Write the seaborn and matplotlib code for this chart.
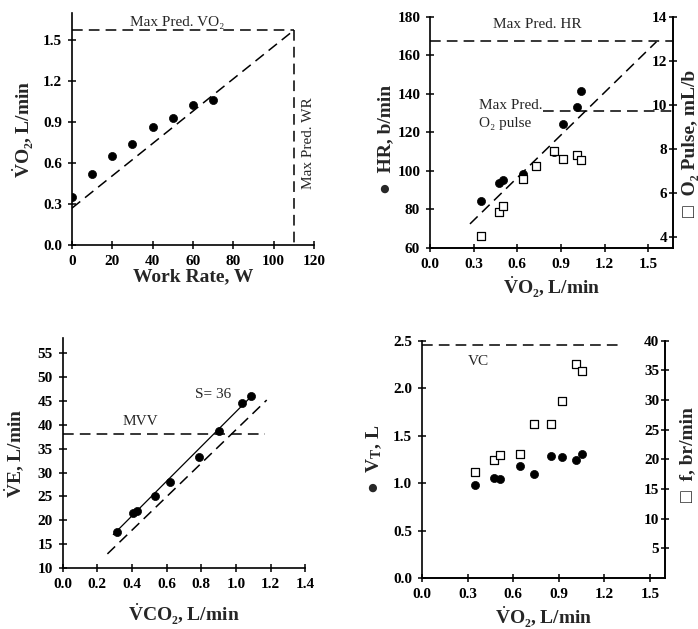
import matplotlib
matplotlib.use("Agg")
import matplotlib.pyplot as plt
import seaborn as sns

sns.set_theme(style="ticks")
plt.rcParams['font.family'] = ['Liberation Serif', 'DejaVu Serif', 'DejaVu Sans']
plt.rcParams['mathtext.fontset'] = 'custom'
plt.rcParams['mathtext.rm'] = 'Liberation Serif'
plt.rcParams['mathtext.bf'] = 'Liberation Serif:bold'
plt.rcParams['mathtext.it'] = 'Liberation Serif:italic'

# ---------------- data ----------------
# Panel 1: VO2 vs work rate
work_rate = [0, 10, 20, 30, 40, 50, 60, 70]
vo2_wr = [0.354, 0.518, 0.65, 0.74, 0.862, 0.928, 1.026, 1.062]
vo2_pred_x = [0, 110]
vo2_pred_y = [0.27, 1.575]
max_pred_vo2 = 1.575
max_pred_wr = 110

# Panel 2: HR and O2 pulse vs VO2
vo2 = [0.348, 0.474, 0.504, 0.637, 0.73, 0.852, 0.914, 1.008, 1.04]
hr = [84.5, 93.5, 95.4, 98.5, 102.5, 109.6, 124.4, 133.4, 141.5]
o2_pulse = [4.03, 5.12, 5.42, 6.62, 7.24, 7.92, 7.53, 7.72, 7.5]
hr_pred_x = [0.275, 1.557]
hr_pred_y = [72.5, 167.0]
max_pred_hr = 167.6
max_pred_o2p = 9.7
o2p_line_start = 0.778

# Panel 3: VE vs VCO2
vco2 = [0.311, 0.408, 0.431, 0.533, 0.619, 0.788, 0.904, 1.037, 1.085]
ve = [17.5, 21.5, 22.0, 25.0, 28.1, 33.2, 38.8, 44.6, 46.1]
ve_fit_x = [0.292, 1.10]
ve_fit_y = [17.0, 46.4]
ve_pred_x = [0.258, 1.177]
ve_pred_y = [12.95, 45.2]
mvv = 38.1
mvv_end = 1.167

# Panel 4: VT and f vs VO2
vo2_b = [0.347, 0.472, 0.514, 0.644, 0.736, 0.852, 0.922, 1.017, 1.052]
vt = [0.975, 1.052, 1.038, 1.175, 1.097, 1.287, 1.280, 1.238, 1.304]
freq = [17.9, 19.9, 20.8, 20.9, 25.9, 25.9, 29.9, 36.1, 34.9]
vc = 2.454
vc_end = 1.324

# ---------------- styling helpers ----------------
TICK_FS = 11
LABEL_FS = 14
TXT_FS = 11
DASH = (7, 4)
SYM_FAMILY = ['Liberation Serif', 'DejaVu Sans']
VDOT = r'$\dot{\mathbf{V}}$'


def style_axis(ax, right=False):
    ax.spines['top'].set_visible(False)
    if not right:
        ax.spines['right'].set_visible(False)
    for s in ax.spines.values():
        s.set_linewidth(1.2)
        s.set_color('black')
    ax.tick_params(direction='inout', length=6, width=1.1, labelsize=TICK_FS,
                   colors='black', pad=4)
    for lab in ax.get_xticklabels() + ax.get_yticklabels():
        lab.set_fontweight('bold')


def inner_right_labels(ax):
    # tick labels of the right axis sit inside the plot, left of the spine
    ax.tick_params(axis='y', pad=-7)
    for t in ax.yaxis.get_major_ticks():
        t.label2.set_horizontalalignment('right')
        t.label2.set_fontweight('bold')


def dashed(ax, x, y):
    ax.plot(x, y, color='black', lw=1.1, linestyle=(0, DASH))


circ_kw = dict(marker='o', color='black', s=34, edgecolor='black', linewidth=0.5, zorder=3)
sq_kw = dict(marker='s', facecolor='white', edgecolor='black', s=26, linewidth=0.9, zorder=4)

fig = plt.figure(figsize=(6.98, 6.29), dpi=100)

# ---------------- Panel 1 ----------------
ax1 = fig.add_axes([0.103, 0.6105, 0.347, 0.3685])
sns.scatterplot(x=work_rate, y=vo2_wr, ax=ax1, **circ_kw)
dashed(ax1, vo2_pred_x, vo2_pred_y)
dashed(ax1, [0, max_pred_wr], [max_pred_vo2, max_pred_vo2])
dashed(ax1, [max_pred_wr, max_pred_wr], [max_pred_vo2, 0])
ax1.set_xlim(0, 120)
ax1.set_ylim(0, 1.7)
ax1.set_xticks([0, 20, 40, 60, 80, 100, 120])
ax1.set_yticks([0.0, 0.3, 0.6, 0.9, 1.2, 1.5])
ax1.set_yticklabels(['0.0', '0.3', '0.6', '0.9', '1.2', '1.5'])
style_axis(ax1)
ax1.set_xlabel('Work Rate, W', fontsize=LABEL_FS, fontweight='bold')
ax1.set_ylabel(VDOT + 'O\u2082, L/min', fontsize=LABEL_FS, fontweight='bold')
ax1.xaxis.set_label_coords(0.5, -0.10)
ax1.yaxis.set_label_coords(-0.148, 0.5)
ax1.text(52, 1.635, 'Max Pred. VO\u2082', fontsize=TXT_FS, ha='center', va='center')
ax1.text(117, 0.75, 'Max Pred. WR', fontsize=TXT_FS, ha='center', va='center', rotation=90)

# ---------------- Panel 2 ----------------
ax2 = fig.add_axes([0.616, 0.6057, 0.348, 0.3678])
ax2r = ax2.twinx()
sns.scatterplot(x=vo2, y=hr, ax=ax2, **circ_kw)
sns.scatterplot(x=vo2, y=o2_pulse, ax=ax2r, **sq_kw)
dashed(ax2, hr_pred_x, hr_pred_y)
dashed(ax2, [0, 1.67], [max_pred_hr, max_pred_hr])
dashed(ax2r, [o2p_line_start, 1.67], [max_pred_o2p, max_pred_o2p])
ax2.set_xlim(0, 1.67)
ax2.set_ylim(60, 180)
ax2r.set_ylim(3.5, 14)
ax2.set_xticks([0.0, 0.3, 0.6, 0.9, 1.2, 1.5])
ax2.set_xticklabels(['0.0', '0.3', '0.6', '0.9', '1.2', '1.5'])
ax2.set_yticks([60, 80, 100, 120, 140, 160, 180])
ax2r.set_yticks([4, 6, 8, 10, 12, 14])
style_axis(ax2, right=True)
style_axis(ax2r, right=True)
inner_right_labels(ax2r)
ax2r.spines['left'].set_visible(False)
ax2.set_xlabel(VDOT + 'O\u2082, L/min', fontsize=LABEL_FS, fontweight='bold')
ax2.set_ylabel('\u25cf  HR, b/min', fontsize=LABEL_FS, fontweight='bold', family=SYM_FAMILY)
ax2r.set_ylabel('\u25a1  O\u2082 Pulse, mL/b', fontsize=LABEL_FS, fontweight='bold',
                family=SYM_FAMILY)
ax2.xaxis.set_label_coords(0.5, -0.113)
ax2.yaxis.set_label_coords(-0.148, 0.47)
ax2r.yaxis.set_label_coords(1.037, 0.45)
ax2.text(0.735, 175.7, 'Max Pred. HR', fontsize=TXT_FS, ha='center', va='center')
ax2.text(0.339, 129, 'Max Pred.\nO\u2082 pulse', fontsize=TXT_FS, ha='left', va='center',
         linespacing=1.5)

# ---------------- Panel 3 ----------------
ax3 = fig.add_axes([0.0898, 0.097, 0.3477, 0.3656])
sns.scatterplot(x=vco2, y=ve, ax=ax3, **circ_kw)
ax3.plot(ve_fit_x, ve_fit_y, color='black', lw=0.9)
dashed(ax3, ve_pred_x, ve_pred_y)
dashed(ax3, [0, mvv_end], [mvv, mvv])
ax3.set_xlim(0, 1.4)
ax3.set_ylim(10, 58.2)
ax3.set_xticks([0.0, 0.2, 0.4, 0.6, 0.8, 1.0, 1.2, 1.4])
ax3.set_xticklabels(['0.0', '0.2', '0.4', '0.6', '0.8', '1.0', '1.2', '1.4'])
ax3.set_yticks([10, 15, 20, 25, 30, 35, 40, 45, 50, 55])
style_axis(ax3)
ax3.set_xlabel(VDOT + 'CO\u2082, L/min', fontsize=LABEL_FS, fontweight='bold')
ax3.set_ylabel(VDOT + 'E, L/min', fontsize=LABEL_FS, fontweight='bold')
ax3.xaxis.set_label_coords(0.5, -0.148)
ax3.yaxis.set_label_coords(-0.152, 0.5)
ax3.text(0.446, 40.6, 'MVV', fontsize=TXT_FS, ha='center', va='center')
ax3.text(0.87, 46.4, 'S= 36', fontsize=TXT_FS, ha='center', va='center')

# ---------------- Panel 4 ----------------
ax4 = fig.add_axes([0.6046, 0.0811, 0.3481, 0.3772])
ax4r = ax4.twinx()
sns.scatterplot(x=vo2_b, y=vt, ax=ax4, **circ_kw)
sns.scatterplot(x=vo2_b, y=freq, ax=ax4r, **sq_kw)
dashed(ax4, [0, vc_end], [vc, vc])
ax4.set_xlim(0, 1.6)
ax4.set_ylim(0, 2.5)
ax4r.set_ylim(0, 40)
ax4.set_xticks([0.0, 0.3, 0.6, 0.9, 1.2, 1.5])
ax4.set_xticklabels(['0.0', '0.3', '0.6', '0.9', '1.2', '1.5'])
ax4.set_yticks([0.0, 0.5, 1.0, 1.5, 2.0, 2.5])
ax4.set_yticklabels(['0.0', '0.5', '1.0', '1.5', '2.0', '2.5'])
ax4r.set_yticks([5, 10, 15, 20, 25, 30, 35, 40])
style_axis(ax4, right=True)
style_axis(ax4r, right=True)
inner_right_labels(ax4r)
ax4r.spines['left'].set_visible(False)
ax4.set_xlabel(VDOT + 'O\u2082, L/min', fontsize=LABEL_FS, fontweight='bold')
ax4.set_ylabel('\u25cf  V$_\\mathbf{T}$, L', fontsize=LABEL_FS, fontweight='bold',
               family=SYM_FAMILY)
ax4r.set_ylabel('\u25a1  f, br/min', fontsize=LABEL_FS, fontweight='bold', family=SYM_FAMILY)
ax4.xaxis.set_label_coords(0.5, -0.11)
ax4.yaxis.set_label_coords(-0.158, 0.5)
ax4r.yaxis.set_label_coords(1.057, 0.52)
ax4.text(0.369, 2.28, 'VC', fontsize=TXT_FS, ha='center', va='center')

fig.savefig('out.png', dpi=100)
